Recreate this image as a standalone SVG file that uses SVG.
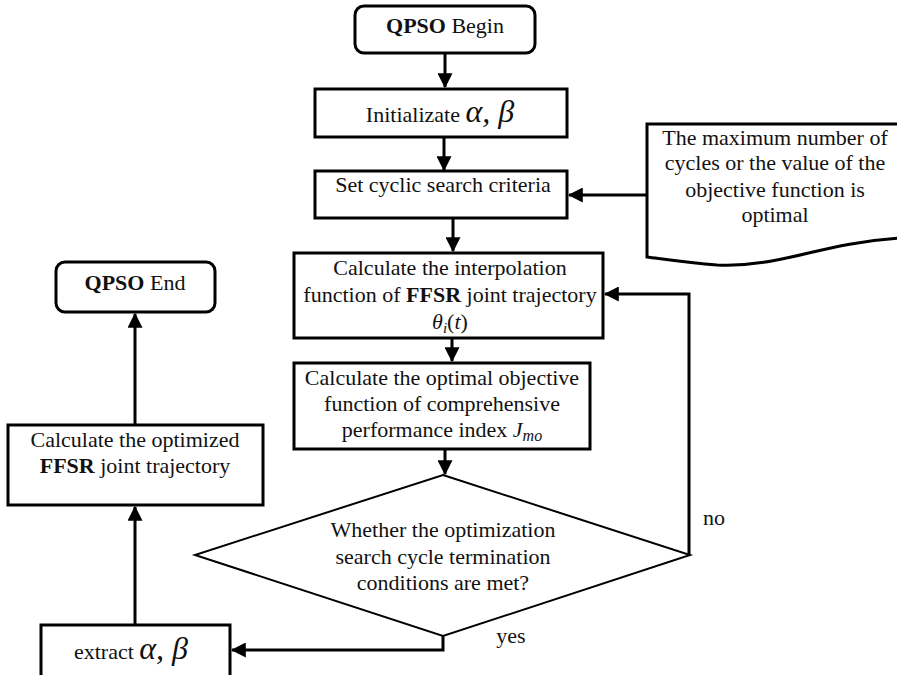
<svg xmlns="http://www.w3.org/2000/svg" width="897" height="675" viewBox="0 0 897 675">
<style>
.box{fill:#fff;stroke:#000;stroke-width:3}
.dia{fill:#fff;stroke:#000;stroke-width:2}
.t{font-family:"Liberation Serif","Times New Roman",Times,serif;font-size:22px;fill:#111;text-anchor:middle}
.m{font-family:"Liberation Serif","Times New Roman",Times,serif;font-style:italic}
.c{fill:none;stroke:#000;stroke-width:3}
</style>
<defs>
<marker id="ah" markerWidth="5" markerHeight="5" refX="4.6" refY="2.5" orient="auto" markerUnits="strokeWidth">
<path d="M0,0 L5,2.5 L0,5 Z" fill="#000"/>
</marker>
</defs>
<rect width="897" height="675" fill="#fff"/>
<g id="connectors">
<line class="c" x1="445" y1="54" x2="445" y2="87" marker-end="url(#ah)"/>
<line class="c" x1="444" y1="138" x2="444" y2="170" marker-end="url(#ah)"/>
<line class="c" x1="453" y1="219" x2="453" y2="251" marker-end="url(#ah)"/>
<line class="c" x1="452" y1="339" x2="452" y2="361" marker-end="url(#ah)"/>
<line class="c" x1="445" y1="450" x2="445" y2="474" marker-end="url(#ah)"/>
<line class="c" x1="647" y1="195" x2="569" y2="195" marker-end="url(#ah)"/>
<polyline class="c" points="689,555 689,294 605,294" marker-end="url(#ah)"/>
<polyline class="c" points="443,636 443,650 232,650" marker-end="url(#ah)"/>
<line class="c" x1="135" y1="624" x2="135" y2="507" marker-end="url(#ah)"/>
<line class="c" x1="135" y1="424" x2="135" y2="314" marker-end="url(#ah)"/>
</g>
<g id="begin">
<rect class="box" x="355" y="6" width="180" height="47" rx="9"/>
<text class="t" x="445" y="33" font-size="23"><tspan font-weight="bold">QPSO</tspan> Begin</text>
</g>
<g id="init">
<rect class="box" x="315" y="89" width="252" height="48"/>
<text class="t" x="440" y="122"><tspan>Initializate </tspan><tspan class="m" font-size="32">α, β</tspan></text>
</g>
<g id="criteria">
<rect class="box" x="315" y="171" width="252" height="47"/>
<text class="t" x="443" y="192">Set cyclic search criteria</text>
</g>
<g id="document">
<path class="box" d="M647,124 L900,124 L900,238 C820,243 780,268 717,265 C690,263 670,260 647,257 Z"/>
<text class="t" x="775" y="145">The maximum number of</text>
<text class="t" x="775" y="170">cycles or the value of the</text>
<text class="t" x="775" y="197">objective function is</text>
<text class="t" x="775" y="222">optimal</text>
</g>
<g id="interp">
<rect class="box" x="294" y="253" width="309" height="85"/>
<text class="t" x="450" y="275">Calculate the interpolation</text>
<text class="t" x="450" y="302">function of <tspan font-weight="bold">FFSR</tspan> joint trajectory</text>
<text class="t" x="450" y="329"><tspan class="m">θ</tspan><tspan class="m" font-size="15" dy="4">i</tspan><tspan dy="-4">(</tspan><tspan class="m">t</tspan>)</text>
</g>
<g id="objective">
<rect class="box" x="294" y="363" width="296" height="86"/>
<text class="t" x="442" y="385">Calculate the optimal objective</text>
<text class="t" x="442" y="411">function of comprehensive</text>
<text class="t" x="442" y="437">performance index <tspan class="m">J</tspan><tspan class="m" font-size="16" dy="4">mo</tspan></text>
</g>
<g id="decision">
<polygon class="dia" points="443,475 690,555 443,636 195,555"/>
<text class="t" x="443" y="537">Whether the optimization</text>
<text class="t" x="443" y="564">search cycle termination</text>
<text class="t" x="443" y="590">conditions are met?</text>
<text class="t" x="714" y="525">no</text>
<text class="t" x="511" y="643">yes</text>
</g>
<g id="extract">
<rect class="box" x="41" y="625" width="189" height="60"/>
<text class="t" x="131" y="659"><tspan>extract </tspan><tspan class="m" font-size="32">α, β</tspan></text>
</g>
<g id="optimized">
<rect class="box" x="8" y="425" width="255" height="80"/>
<text class="t" x="135" y="447">Calculate the optimized</text>
<text class="t" x="135" y="473"><tspan font-weight="bold">FFSR</tspan> joint trajectory</text>
</g>
<g id="end">
<rect class="box" x="56" y="262" width="159" height="50" rx="9"/>
<text class="t" x="135" y="290" font-size="23"><tspan font-weight="bold">QPSO</tspan> End</text>
</g>
</svg>
